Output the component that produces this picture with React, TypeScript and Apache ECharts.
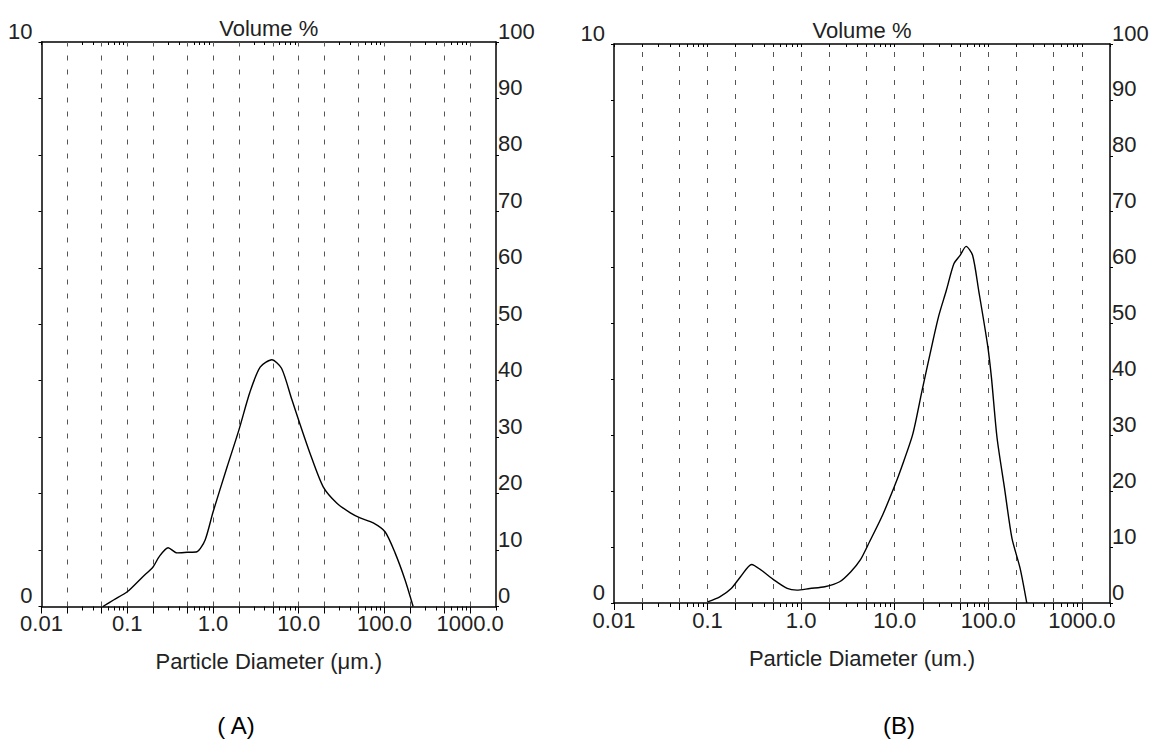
import React, { useEffect, useRef } from "react";
import * as echarts from "echarts";

// ---- axis definitions ----
const xDecades = [0.01, 0.1, 1, 10, 100, 1000];
const xTickLabels = ["0.01", "0.1", "1.0", "10.0", "100.0", "1000.0"];
const dashedDiameters = [0.02, 0.05, 0.1, 0.2, 0.5, 1, 2, 5, 10, 20, 50, 100, 200, 500, 1000];
const minorMultipliers = [1, 2, 3, 4, 5, 6, 7, 8, 9];
const leftAxisLabels = [0, 10];
const xAxisTitles = ["Particle Diameter (μm.)", "Particle Diameter (um.)"];
const topTitle = "Volume %";
const panelCaptions = ["( A)", "(B)"];

// ---- series (diameter in µm, volume %) ----
const diamA = [0.052, 0.07, 0.1, 0.15, 0.2, 0.235, 0.3, 0.38, 0.5, 0.65, 0.81, 1.0, 1.46, 2.0, 2.7, 3.55, 4.85, 6.3, 8.3, 10.4, 13.5, 19.3, 27.9, 40, 52, 74, 102, 133, 174, 216];
const volA = [0.0, 0.12, 0.26, 0.52, 0.7, 0.88, 1.04, 0.95, 0.96, 0.97, 1.18, 1.67, 2.47, 3.12, 3.8, 4.24, 4.37, 4.22, 3.67, 3.22, 2.72, 2.12, 1.83, 1.66, 1.57, 1.48, 1.32, 0.95, 0.47, 0.0];

const diamB = [0.1, 0.135, 0.179, 0.225, 0.296, 0.373, 0.515, 0.71, 0.9, 1.24, 1.79, 2.58, 3.4, 4.29, 5.4, 7.45, 9.8, 11.8, 15.6, 19.6, 24.7, 29.6, 35.6, 42.9, 50, 58, 68, 79, 98, 108, 124, 149, 179, 219, 258];
const volB = [0.02, 0.11, 0.26, 0.47, 0.69, 0.59, 0.41, 0.26, 0.23, 0.26, 0.29, 0.38, 0.56, 0.77, 1.1, 1.58, 2.06, 2.42, 3.02, 3.8, 4.57, 5.14, 5.59, 6.07, 6.22, 6.38, 6.22, 5.59, 4.63, 4.04, 2.96, 2.06, 1.16, 0.62, 0.0];

const FONT = '"Liberation Sans", Arial, sans-serif';
const X_MIN = 0.01;
const X_MAX = 2000;

const allTicks: number[] = [];
xDecades.forEach((d) => minorMultipliers.forEach((m) => {
  const v = +(d * m).toPrecision(6);
  if (v <= X_MAX) allTicks.push(v);
}));

function fmtDecade(v: number) {
  for (let i = 0; i < xDecades.length; i++) {
    if (Math.abs(Math.log10(v) - Math.log10(xDecades[i])) < 1e-6) return xTickLabels[i];
  }
  return "";
}

const grids = [
  { left: 41.5, top: 42, width: 454.5, height: 564.5 },
  { left: 614, top: 44, width: 496, height: 559 },
];

export default function App() {
  const ref = useRef<HTMLDivElement>(null);
  useEffect(() => {
    if (!ref.current) return;
    const chart = echarts.init(ref.current, undefined, { renderer: "svg" });
    const xAxes: any[] = [];
    const yAxes: any[] = [];
    const series: any[] = [];
    const datasets = [
      { d: diamA, v: volA },
      { d: diamB, v: volB },
    ];
    grids.forEach((g, i) => {
      const base = { type: "log", logBase: 10, gridIndex: i, min: X_MIN, max: X_MAX, splitLine: { show: false } };
      xAxes.push({
        ...base,
        position: "bottom",
        axisLine: { show: true, lineStyle: { color: "#000", width: 1.5 } },
        axisTick: { show: true, customValues: dashedDiameters.concat([0.01]), length: 7, lineStyle: { color: "#000" } },
        axisLabel: { show: true, customValues: xDecades, formatter: (v: number) => fmtDecade(v), fontSize: 22, color: "#222", fontFamily: FONT, margin: 6 },
        name: xAxisTitles[i],
        nameLocation: "middle",
        nameGap: 44,
        nameTextStyle: { fontSize: 22, color: "#222", fontFamily: FONT },
      });
      xAxes.push({
        ...base,
        position: "bottom",
        axisLine: { show: false },
        axisTick: { show: true, customValues: allTicks, length: 4, lineStyle: { color: "#000" } },
        axisLabel: { show: false },
      });
      xAxes.push({
        ...base,
        position: "top",
        axisLine: { show: true, lineStyle: { color: "#000", width: 1.5 } },
        axisTick: { show: true, inside: true, customValues: allTicks, length: 3, lineStyle: { color: "#000" } },
        axisLabel: { show: false },
        name: topTitle,
        nameLocation: "middle",
        nameGap: 3,
        nameTextStyle: { fontSize: 22, color: "#222", fontFamily: FONT },
      });
      yAxes.push({
        type: "value",
        gridIndex: i,
        position: "left",
        min: 0,
        max: 10,
        interval: 1,
        splitLine: { show: false },
        axisLine: { show: true, lineStyle: { color: "#000", width: 1.5 } },
        axisTick: { show: true, length: 3, lineStyle: { color: "#000" } },
        axisLabel: {
          formatter: (v: number) => (leftAxisLabels.includes(v) ? String(v) : ""),
          fontSize: 22, color: "#222", fontFamily: FONT, margin: 9, verticalAlign: "bottom",
        },
      });
      yAxes.push({
        type: "value",
        gridIndex: i,
        position: "right",
        min: 0,
        max: 100,
        interval: 10,
        splitLine: { show: false },
        axisLine: { show: true, lineStyle: { color: "#000", width: 1.5 } },
        axisTick: { show: true, length: 3, lineStyle: { color: "#000" } },
        axisLabel: { fontSize: 22, color: "#222", fontFamily: FONT, margin: 2, verticalAlign: "bottom" },
      });
      series.push({
        type: "line",
        xAxisIndex: i * 3,
        yAxisIndex: i * 2,
        data: datasets[i].d.map((d, j) => [d, datasets[i].v[j]]),
        showSymbol: false,
        smooth: 0.25,
        lineStyle: { color: "#000", width: 1.4 },
        z: 3,
        markLine: {
          silent: true,
          symbol: ["none", "none"],
          label: { show: false },
          lineStyle: { type: [5, 9], color: "#555", width: 1 },
          data: dashedDiameters.map((v) => ({ xAxis: v })),
          z: 1,
        },
      });
    });

    chart.setOption({
      animation: false,
      backgroundColor: "#fff",
      grid: grids,
      xAxis: xAxes,
      yAxis: yAxes,
      series,
      graphic: [
        { type: "text", x: 236, y: 725, style: { text: panelCaptions[0], font: `24px ${FONT}`, fill: "#000", align: "center", verticalAlign: "middle" } },
        { type: "text", x: 899, y: 725, style: { text: panelCaptions[1], font: `24px ${FONT}`, fill: "#000", align: "center", verticalAlign: "middle" } },
      ],
    });
    return () => chart.dispose();
  }, []);
  return <div ref={ref} style={{ position: "fixed", left: 0, top: 0, width: 1152, height: 756, background: "#fff" }} />;
}
